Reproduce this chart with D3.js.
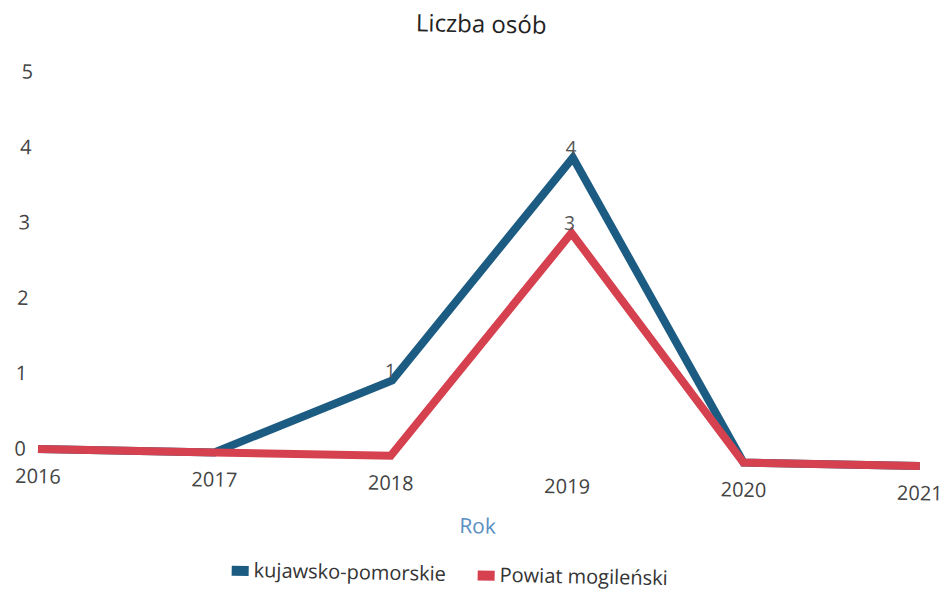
<!DOCTYPE html>
<html>
<head>
<meta charset="utf-8">
<script src="https://cdn.jsdelivr.net/npm/d3@7/dist/d3.min.js"></script>
<style>
  html, body { margin: 0; padding: 0; background: #fff; }
  svg { display: block; font-family: "Open Sans", sans-serif; }
</style>
</head>
<body>
<svg id="chart" width="944" height="592"></svg>
<script>
const years = [2016, 2017, 2018, 2019, 2020, 2021];
const kujawskoPomorskie = [0, 0, 1, 4, 0, 0];
const powiatMogilenski = [0, 0, 0, 3, 0, 0];
const yTicks = [0, 1, 2, 3, 4, 5];
const seriesNames = ["kujawsko-pomorskie", "Powiat mogileński"];
const seriesColors = ["#1d5c82", "#d6414f"];
const labelShown = [[false, false, true, true, false, false], [false, false, false, true, false, false]];

const svg = d3.select("#chart");
// scanned page is slightly rotated
const g = svg.append("g").attr("transform", "rotate(1.1, 38, 449)");

const x = d3.scalePoint().domain(years).range([38, 920]);
const y = d3.scaleLinear().domain([0, 5]).range([449, 72]);

// title
g.append("text").attr("x", 473).attr("y", 24).attr("text-anchor", "middle")
  .attr("font-size", 24).attr("fill", "#222").text("Liczba osób");

// y axis labels
const yAxis = d3.axisLeft(y).tickValues(yTicks).tickSize(0).tickPadding(0).tickFormat(d3.format("d"));
const ya = g.append("g").attr("transform", "translate(26,0)").call(yAxis);
ya.select(".domain").remove();
ya.selectAll("text").attr("font-size", 20).attr("fill", "#444").attr("font-family", "Open Sans, sans-serif")
  .attr("text-anchor", "middle").attr("x", -6);

// x axis labels
const xAxis = d3.axisBottom(x).tickSize(0).tickPadding(0).tickFormat(d3.format("d"));
const xa = g.append("g").attr("transform", "translate(0,469)").call(xAxis);
xa.select(".domain").remove();
xa.selectAll("text").attr("font-size", 20).attr("fill", "#444").attr("font-family", "Open Sans, sans-serif")
  .attr("dy", "0.71em").attr("y", 0);

// x axis title
g.append("text").attr("x", 479).attr("y", 525).attr("text-anchor", "middle")
  .attr("font-size", 21).attr("fill", "#5a8fc2").text("Rok");

// lines
const line = d3.line().x((d, i) => x(years[i])).y(d => y(d));
const allSeries = [kujawskoPomorskie, powiatMogilenski];
allSeries.forEach((s, k) => {
  g.append("path").datum(s).attr("d", line).attr("fill", "none")
    .attr("stroke", seriesColors[k]).attr("stroke-width", 8)
    .attr("stroke-linejoin", "miter").attr("stroke-miterlimit", 10);
});

// data labels
allSeries.forEach((s, k) => {
  g.selectAll(null).data(s.map((v, i) => ({ v, i })).filter(d => labelShown[k][d.i])).enter()
    .append("text")
    .attr("x", d => x(years[d.i]) - 2).attr("y", d => y(d.v) - 3)
    .attr("text-anchor", "middle").attr("font-size", 19).attr("fill", "#555")
    .text(d => d.v);
});

// legend
const legend = g.append("g");
const legendX = [234, 480];
seriesNames.forEach((name, k) => {
  legend.append("rect").attr("x", legendX[k]).attr("y", 562).attr("width", 17).attr("height", 10)
    .attr("fill", seriesColors[k]);
  legend.append("text").attr("x", legendX[k] + 22).attr("y", 573)
    .attr("font-size", 20).attr("fill", "#333").text(name);
});
</script>
</body>
</html>
